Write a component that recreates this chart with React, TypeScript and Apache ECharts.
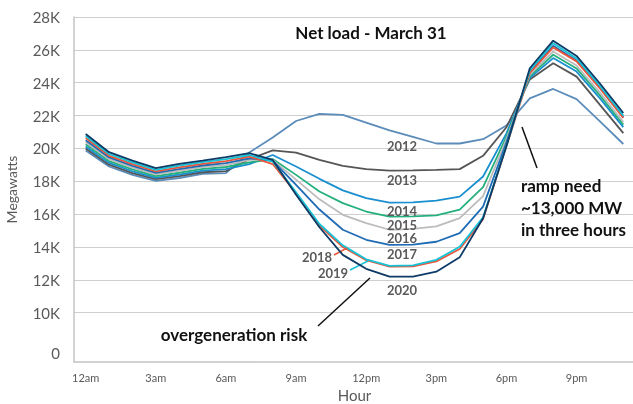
import React, { useEffect, useRef } from "react";
import * as echarts from "echarts";

const hours = [
  "12am", "1am", "2am", "3am", "4am", "5am", "6am", "7am", "8am", "9am", "10am", "11am",
  "12pm", "1pm", "2pm", "3pm", "4pm", "5pm", "6pm", "7pm", "8pm", "9pm", "10pm", "11pm",
];

const years = ["2012", "2013", "2014", "2015", "2016", "2017", "2018", "2019", "2020"];

const load2012 = [19870, 18900, 18390, 18030, 18200, 18450, 18500, 19750, 20660, 21670, 22100, 22040, 21570, 21100, 20700, 20300, 20300, 20560, 21400, 23050, 23620, 23000, 21650, 20270];
const load2013 = [19990, 19010, 18500, 18130, 18310, 18550, 18620, 19350, 19880, 19750, 19300, 18940, 18740, 18650, 18670, 18700, 18740, 19550, 21290, 24200, 25180, 24370, 22650, 20930];
const load2014 = [20120, 19120, 18610, 18220, 18410, 18650, 18740, 19050, 19600, 18900, 18150, 17450, 16970, 16700, 16720, 16820, 17070, 18290, 20920, 24300, 25500, 24680, 23050, 21300];
const load2015 = [20250, 19230, 18720, 18320, 18520, 18750, 18870, 19150, 19350, 18390, 17380, 16670, 16160, 15850, 15870, 15930, 16280, 17640, 20720, 24400, 25700, 24870, 23230, 21450];
const load2016 = [20370, 19340, 18830, 18420, 18630, 18860, 18990, 19300, 19300, 18100, 16900, 15960, 15450, 15050, 15100, 15250, 15760, 17100, 20560, 24500, 25900, 25050, 23400, 21600];
const load2017 = [20500, 19450, 18940, 18510, 18740, 18960, 19110, 19400, 19250, 17780, 16280, 15050, 14440, 14130, 14150, 14320, 14850, 16460, 20370, 24650, 26250, 25350, 23700, 21900];
const load2018 = [20630, 19550, 19040, 18610, 18850, 19060, 19230, 19500, 19050, 17270, 15300, 14000, 13200, 12800, 12820, 13120, 13880, 15700, 20140, 24600, 26150, 25300, 23650, 21850];
const load2019 = [20760, 19660, 19150, 18700, 18950, 19160, 19350, 19600, 19200, 17330, 15400, 14100, 13250, 12850, 12880, 13220, 14010, 15810, 20170, 24750, 26400, 25480, 23800, 22000];
const load2020 = [20880, 19770, 19260, 18800, 19060, 19260, 19470, 19710, 19300, 17180, 15200, 13520, 12670, 12200, 12200, 12500, 13370, 15750, 20150, 24880, 26560, 25630, 23950, 22160];

const seriesValues = [load2012, load2013, load2014, load2015, load2016, load2017, load2018, load2019, load2020];
const seriesColors = ["#5b8cba", "#555555", "#1a8fd0", "#24b07c", "#bcbcbc", "#1f6bb5", "#e8553a", "#16c2d6", "#0d3b66"];

const yTicks = [7000, 8000, 9000, 10000, 11000, 12000, 13000, 14000, 15000, 16000, 17000, 18000, 19000, 20000, 21000, 22000, 23000, 24000, 25000, 26000, 27000, 28000];

const FONT = 'Lato, "Open Sans", "Noto Sans", sans-serif';
const AXIS_GREY = "#595959";
const LABEL_GREY = "#5a5a5a";

export default function App() {
  const ref = useRef<HTMLDivElement>(null);

  useEffect(() => {
    if (!ref.current) return;
    const chart = echarts.init(ref.current, undefined, { renderer: "svg" });

    const gridColors = yTicks.map((v) => (v >= 10000 && v % 2000 === 0 ? "#cfcfcf" : "rgba(0,0,0,0)"));

    const yearLabel = (text: string, x: number, y: number) => ({
      type: "text",
      style: { text, x, y, align: "center", verticalAlign: "middle", fill: LABEL_GREY, fontSize: 13, fontWeight: "bold", fontFamily: FONT, lineHeight: 12 },
      z: 10,
    });
    const bold = (text: string, x: number, y: number, align = "left") => ({
      type: "text",
      style: { text, x, y, align, verticalAlign: "middle", fill: "#111", font: `bold 17px ${FONT}` },
      z: 10,
    });
    const leader = (x1: number, y1: number, x2: number, y2: number, color: string) => ({
      type: "line",
      shape: { x1, y1, x2, y2 },
      style: { stroke: color, lineWidth: 1.5 },
      z: 10,
    });

    chart.setOption({
      animation: false,
      textStyle: { fontFamily: FONT },
      grid: { left: 74, top: 17, width: 561, height: 345, containLabel: false, outerBoundsMode: "none" },
      xAxis: {
        type: "category",
        data: hours,
        boundaryGap: true,
        name: "Hour",
        nameLocation: "middle",
        nameGap: 25,
        nameTextStyle: { color: AXIS_GREY, fontSize: 15, fontFamily: FONT },
        axisLine: { show: true, lineStyle: { color: "#c4c4c4", width: 1.5 } },
        axisTick: { show: false },
        axisLabel: { interval: 2, color: AXIS_GREY, fontSize: 11, margin: 10, fontFamily: FONT },
        splitLine: { show: false },
      },
      yAxis: {
        type: "value",
        min: 7000,
        max: 28000,
        interval: 1000,
        name: "Megawatts",
        nameLocation: "middle",
        nameGap: 56,
        nameRotate: 90,
        nameTextStyle: { color: AXIS_GREY, fontSize: 14, fontFamily: FONT },
        axisLine: { show: true, lineStyle: { color: "#c4c4c4", width: 1.5 } },
        axisTick: { show: false },
        axisLabel: {
          color: AXIS_GREY,
          fontSize: 15,
          margin: 14,
          fontFamily: FONT,
          showMinLabel: true,
          showMaxLabel: true,
          formatter: (v: number) => {
            if (v === 7000) return "{z|0}";
            if (v >= 10000 && v % 2000 === 0) return `${v / 1000}K`;
            return "";
          },
          rich: { z: { color: AXIS_GREY, fontSize: 15, fontFamily: FONT, padding: [0, 0, 18, 0] } },
        },
        splitLine: { show: true, showMinLine: true, showMaxLine: true, lineStyle: { color: gridColors, width: 1.2 } },
      },
      series: years.map((y, i) => ({
        name: y,
        type: "line",
        data: seriesValues[i],
        symbol: "none",
        lineStyle: { color: seriesColors[i], width: 1.8 },
        itemStyle: { color: seriesColors[i] },
        z: 2 + i,
      })),
      graphic: [
        {
          type: "text",
          style: { text: "Net load - March 31", x: 371, y: 32, align: "center", verticalAlign: "middle", fill: "#111", font: `bold 17px ${FONT}` },
        },
        yearLabel("2012", 402, 146),
        yearLabel("2013", 402, 180),
        yearLabel("2014", 402, 211),
        yearLabel("2015", 402, 225),
        yearLabel("2016", 402, 238),
        yearLabel("2017", 402, 254),
        yearLabel("2020", 402, 290),
        yearLabel("2018", 317, 257),
        yearLabel("2019", 333, 273),
        leader(334, 255, 347, 248, "#e8553a"),
        leader(350, 270, 368, 261, "#16c2d6"),
        bold("overgeneration risk", 234, 334, "center"),
        leader(318, 326, 370, 278, "#111"),
        bold("ramp need", 521, 185),
        bold("~13,000 MW", 521, 207),
        bold("in three hours", 521, 229),
        leader(522, 127, 537, 168, "#111"),
      ],
    });

    return () => chart.dispose();
  }, []);

  return <div ref={ref} style={{ position: "fixed", left: 0, top: 0, width: 633, height: 404 }} />;
}
